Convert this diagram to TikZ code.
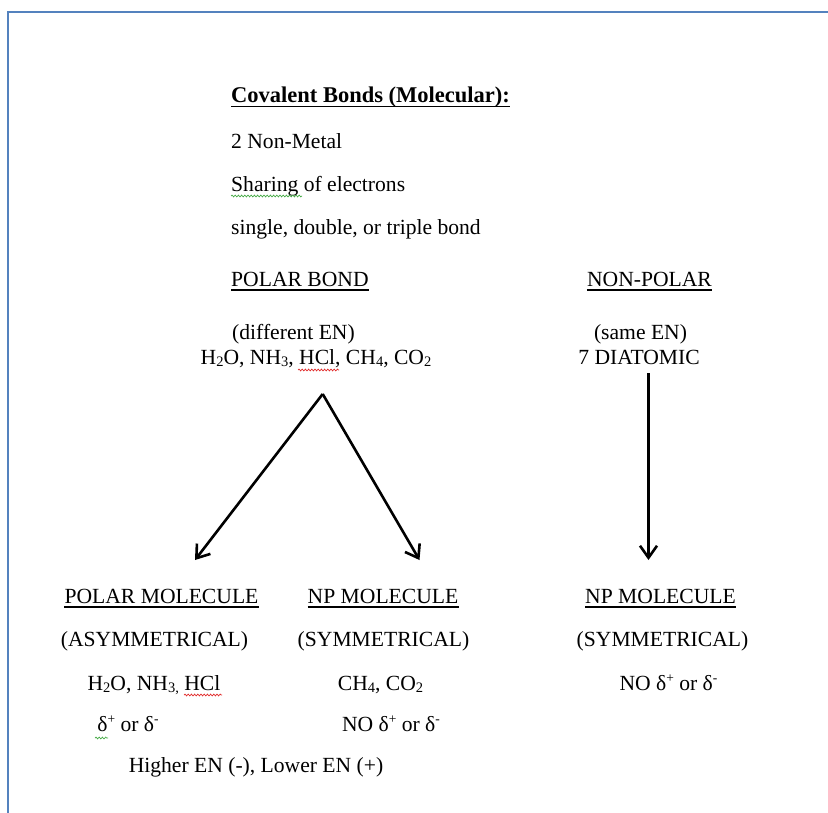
\documentclass[tikz,border=0pt]{standalone}
\usepackage{fontspec}
\setmainfont{Liberation Serif}
\usetikzlibrary{arrows.meta,decorations.pathmorphing}
\definecolor{framebl}{RGB}{84,130,190}
\definecolor{spellred}{RGB}{225,45,45}
\definecolor{spellgreen}{RGB}{70,170,70}
\newcommand\sbs[1]{\raisebox{-2.2pt}{\fontsize{14.5}{14.5}\selectfont #1}}
\newcommand\sps[1]{\raisebox{7.5pt}{\fontsize{13.5}{13.5}\selectfont #1}}
\tikzset{
  txt/.style={font=\fontsize{21.6}{26}\selectfont, inner sep=0pt, anchor=base},
  txtl/.style={font=\fontsize{21.6}{26}\selectfont, inner sep=0pt, anchor=base west},
  txtb/.style={font=\fontsize{22.5}{27}\selectfont\bfseries, inner sep=0pt, anchor=base west},
  uline/.style={line width=1.3pt},
  arr/.style={line width=2.6pt, line join=round, -{Straight Barb[length=12pt,width=17pt]}},
  squig/.style={decorate, decoration={snake, amplitude=0.9pt, segment length=3.2pt}, line width=0.7pt},
  frame/.style={draw=framebl, line width=2pt},
}
\begin{document}
\begin{tikzpicture}[x=1pt,y=-1pt]
\fill[white] (0,0) rectangle (828,813);
\useasboundingbox (0,0) rectangle (828,813);
\draw[frame] (8,813) -- (8,12) -- (828,12);

% top block
\node[txtb] (title) at (231,103) {Covalent Bonds (Molecular):};
\draw[line width=1.8pt] ([yshift=-3.5pt]title.base west) -- ([yshift=-3.5pt]title.base east);
\node[txtl] (nonmetal) at (231,148.5) {2 Non-Metal};
\node[txtl] (sharing) at (231,191.5) {Sharing of electrons};
\node[txtl] (single) at (231,234.5) {single, double, or triple bond};

\node[txtl] (polarbond) at (231,286.5) {POLAR BOND};
\draw[uline] ([yshift=-3.5pt]polarbond.base west) -- ([yshift=-3.5pt]polarbond.base east);
\node[txt] (nonpolar) at (649.5,286.5) {NON-POLAR};
\draw[uline] ([yshift=-3.5pt]nonpolar.base west) -- ([yshift=-3.5pt]nonpolar.base east);

\node[txt] (diffen) at (293.5,339.5) {(different EN)};
\node[txt] (sameen) at (640.5,339.5) {(same EN)};
\node[txt] (examples) at (316,364.5) {H\sbs{2}O, NH\sbs{3}, HCl, CH\sbs{4}, CO\sbs{2}};
\node[txt] (diatomic) at (639,364.5) {7 DIATOMIC};

% arrows
\coordinate (apex) at (322.7,394);
\coordinate (tipl) at (195,560);
\coordinate (tipr) at (419.5,560);
\coordinate (vtop) at (648.5,373);
\coordinate (vbot) at (648.5,560);
\draw[arr] (apex) -- (tipl);
\draw[arr] (apex) -- (tipr);
\draw[arr] (vtop) -- (vbot);

% bottom block
\node[txt] (polmol) at (161.5,603.5) {POLAR MOLECULE};
\draw[uline] ([yshift=-3.5pt]polmol.base west) -- ([yshift=-3.5pt]polmol.base east);
\node[txt] (npmol) at (383,603.5) {NP MOLECULE};
\draw[uline] ([yshift=-3.5pt]npmol.base west) -- ([yshift=-3.5pt]npmol.base east);
\node[txt] (npmolr) at (660.5,603.5) {NP MOLECULE};
\draw[uline] ([yshift=-3.5pt]npmolr.base west) -- ([yshift=-3.5pt]npmolr.base east);

\node[txt] (asym) at (154.5,646.5) {(ASYMMETRICAL)};
\node[txt] (sym) at (383.5,646.5) {(SYMMETRICAL)};
\node[txt] (symr) at (662.5,646.5) {(SYMMETRICAL)};

\node[txt] (polex) at (154,690) {H\sbs{2}O, NH\sbs{3,} HCl};
\node[txt] (npex) at (380.5,690) {CH\sbs{4}, CO\sbs{2}};
\node[txt] (nodeltar) at (668.5,690) {NO δ\sps{+} or δ\sps{-}};

\node[txt] (delta) at (128,731) {δ\sps{+} or δ\sps{-}};
\node[txt] (nodelta) at (391,731) {NO δ\sps{+} or δ\sps{-}};

\node[txt] (higher) at (256,772.5) {Higher EN (-), Lower EN (+)};

% spell-check squiggles
\draw[squig, spellgreen] (231,196) -- (302,196);
\draw[squig, spellred] (298,370) -- (339,370);
\draw[squig, spellred] (184,695) -- (222,695);
\draw[squig, spellgreen] (95,738) -- (108,738);
\end{tikzpicture}
\end{document}
